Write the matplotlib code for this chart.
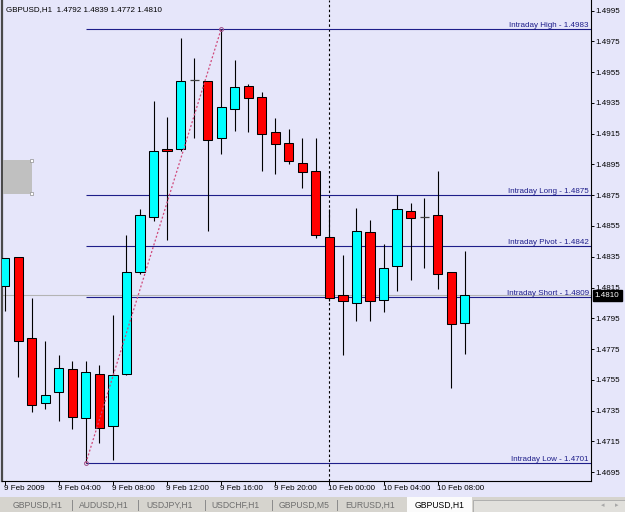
import matplotlib
matplotlib.use("Agg")
import matplotlib.pyplot as plt
from matplotlib.patches import Rectangle
from matplotlib.lines import Line2D

plt.rcParams['font.family'] = ['Liberation Sans', 'DejaVu Sans']

# ---------------- data ----------------
symbol = "GBPUSD"
timeframe = "H1"
opens = [1.4816, 1.4835, 1.4782, 1.4740, 1.4747, 1.4762, 1.4730, 1.4759, 1.4725, 1.4759,
         1.4825, 1.4861, 1.4905, 1.4905, 1.4950, 1.4949, 1.4912, 1.4931, 1.4946, 1.4939,
         1.4916, 1.4909, 1.4896, 1.4891, 1.4848, 1.4810, 1.4805, 1.4851, 1.4807, 1.4829,
         1.4865, 1.4861, 1.4862, 1.4825, 1.4792]
highs = [1.4834, 1.4835, 1.4808, 1.4780, 1.4771, 1.4767, 1.4767, 1.4765, 1.4797, 1.4849,
         1.4866, 1.4936, 1.4926, 1.4977, 1.4964, 1.4949, 1.4983, 1.4963, 1.4947, 1.4942,
         1.4925, 1.4918, 1.4912, 1.4912, 1.4866, 1.4836, 1.4867, 1.4859, 1.4843, 1.4875,
         1.4870, 1.4873, 1.4891, 1.4825, 1.4839]
lows = [1.4800, 1.4757, 1.4734, 1.4736, 1.4728, 1.4723, 1.4701, 1.4714, 1.4703, 1.4758,
        1.4824, 1.4858, 1.4846, 1.4904, 1.4912, 1.4852, 1.4902, 1.4917, 1.4916, 1.4891,
        1.4889, 1.4895, 1.4880, 1.4847, 1.4806, 1.4771, 1.4793, 1.4793, 1.4799, 1.4813,
        1.4820, 1.4828, 1.4814, 1.4750, 1.4772]
closes = [1.4834, 1.4780, 1.4739, 1.4745, 1.4763, 1.4731, 1.4760, 1.4724, 1.4758, 1.4825,
          1.4862, 1.4904, 1.4904, 1.4949, 1.4950, 1.4911, 1.4932, 1.4945, 1.4938, 1.4915,
          1.4908, 1.4897, 1.4890, 1.4849, 1.4808, 1.4806, 1.4852, 1.4806, 1.4828, 1.4866,
          1.4860, 1.4861, 1.4824, 1.4791, 1.4810]

level_names = ["Intraday High", "Intraday Long", "Intraday Pivot", "Intraday Short", "Intraday Low"]
level_values = [1.4983, 1.4875, 1.4842, 1.4809, 1.4701]

xtick_bars = [0, 4, 8, 12, 16, 20, 24, 28, 32]
xtick_labels = ["9 Feb 2009", "9 Feb 04:00", "9 Feb 08:00", "9 Feb 12:00", "9 Feb 16:00",
                "9 Feb 20:00", "10 Feb 00:00", "10 Feb 04:00", "10 Feb 08:00"]
ytick_values = [1.4695, 1.4715, 1.4735, 1.4755, 1.4775, 1.4795, 1.4815, 1.4835,
                1.4855, 1.4875, 1.4895, 1.4915, 1.4935, 1.4955, 1.4975, 1.4995]

day_separator_bar = 24
trend_start_bar = 6
trend_end_bar = 16

tabs = ["GBPUSD,H1", "AUDUSD,H1", "USDJPY,H1", "USDCHF,H1", "GBPUSD,M5", "EURUSD,H1", "GBPUSD,H1"]

# ---------------- layout ----------------
W, H = 625, 512
BG = '#e6e6fa'
FS = 5.8

fig = plt.figure(figsize=(W / 100, H / 100), dpi=100, facecolor=BG)
ax_left, ax_right, ax_bottom_px = 2.0, 591.0, 480.5
ax = fig.add_axes([ax_left / W, (H - ax_bottom_px) / H, (ax_right - ax_left) / W, ax_bottom_px / H])
ax.set_facecolor(BG)

# mapping: bar i -> x px = 4.7 + 13.53 i ; price p -> y px = 29 + (1.4983 - p) * 15390
bar_px, bar0_px = 13.53, 4.7
ppx = 15390.0
ax.set_xlim((ax_left - bar0_px) / bar_px, (ax_right - bar0_px) / bar_px)
ax.set_ylim(1.4983 - (ax_bottom_px - 29) / ppx, 1.4983 + 29 / ppx)

n = len(opens)
xs = list(range(n))

# bid line
ax.axhline(closes[-1], color='#b4b4b4', lw=0.8, zorder=1)

# day separator
ax.axvline(day_separator_bar, color='black', lw=0.8, ls=(0, (2.2, 2.2)), zorder=1)

# levels
xr = ax.get_xlim()[1]
for name, v in zip(level_names, level_values):
    ax.hlines(v, trend_start_bar, xr, color='#1e1e8a', lw=0.8, zorder=2)
    ax.annotate(f"{name} - {v:.4f}", xy=(1, v), xycoords=('axes fraction', 'data'),
                xytext=(-1.6, 1.5), textcoords='offset points', ha='right', va='baseline',
                fontsize=FS, color='#1e1e8a', zorder=6)

# candles
bw = 0.68
for i in xs:
    o, h, l, c = opens[i], highs[i], lows[i], closes[i]
    ax.vlines(i, l, h, color='black', lw=0.8, zorder=3)
    if abs(c - o) < 1e-9:
        ax.hlines(o, i - bw / 2, i + bw / 2, color='#404040', lw=0.9, zorder=4)
    else:
        col = '#00ffff' if c > o else '#ff0000'
        ax.bar(i, c - o, bottom=o, width=bw, color=col, edgecolor='black', linewidth=0.75, zorder=4)

# trend line (dotted) between low of start bar and high of end bar
tx = [trend_start_bar, trend_end_bar]
ty = [lows[trend_start_bar], highs[trend_end_bar]]
ax.plot(tx, ty, color='#d0487a', lw=0.9, ls=(0, (1.6, 1.6)), zorder=5)
ax.plot(tx, ty, ls='none', marker='o', ms=2.8, mfc='none', mec='#a0508a', mew=0.7, zorder=5)

# spines / ticks
ax.spines['top'].set_visible(False)
ax.spines['left'].set_color('#4a4a4a')
ax.spines['left'].set_linewidth(1.6)
ax.spines['right'].set_color('black')
ax.spines['right'].set_linewidth(0.8)
ax.spines['bottom'].set_color('black')
ax.spines['bottom'].set_linewidth(0.8)

ax.yaxis.tick_right()
ax.set_yticks(ytick_values)
ax.set_yticklabels([f"{v:.4f}" for v in ytick_values])
ax.tick_params(axis='y', direction='out', length=2.2, width=0.7, pad=1.2, labelsize=FS, colors='black')
ax.set_xticks(xtick_bars)
ax.set_xticklabels(xtick_labels)
for lbl in ax.get_xticklabels():
    lbl.set_horizontalalignment('left')
ax.tick_params(axis='x', direction='out', length=2.9, width=0.7, pad=0.4, labelsize=FS, colors='black')
for lbl in ax.get_xticklabels():
    lbl.set_x(lbl.get_position()[0])
# shift x labels slightly left so text starts at tick
import matplotlib.transforms as mtrans
offset = mtrans.ScaledTranslation(-1.0 / 100, 0, fig.dpi_scale_trans)
for lbl in ax.get_xticklabels():
    lbl.set_transform(lbl.get_transform() + offset)

# current price box on the price axis
ax.annotate(f"{closes[-1]:.4f}", xy=(1, closes[-1]), xycoords=('axes fraction', 'data'),
            xytext=(2.8, 0), textcoords='offset points', ha='left', va='center',
            fontsize=FS, color='white', zorder=10, annotation_clip=False,
            bbox=dict(boxstyle='square,pad=0.25', fc='black', ec='black'))

# title
fig.text(6 / W, 1 - 9.5 / H,
         f"{symbol},{timeframe}  {opens[-1]:.4f} {highs[-1]:.4f} {lows[-1]:.4f} {closes[-1]:.4f}",
         fontsize=FS, color='black', va='center', ha='left')

# gray object box at left with handles
def fr(x0, y0, w, h, **kw):
    return Rectangle((x0 / W, 1 - (y0 + h) / H), w / W, h / H, transform=fig.transFigure, **kw)

fig.patches.append(fr(3, 160, 28.7, 33.5, fc='#c0c0c0', ec='none', zorder=3))
for (hx, hy) in [(30.2, 158.5), (30.2, 192)]:
    fig.patches.append(fr(hx, hy, 3, 3, fc='white', ec='#909090', lw=0.5, zorder=4))

# tab bar
fig.patches.append(fr(0, 497, W, 15, fc='#d6d4ce', ec='none', zorder=1))
fig.patches.append(fr(473, 499.5, 152, 13, fc='#e1e0dc', ec='#a8a8a8', lw=0.6, zorder=2))
fig.patches.append(fr(407, 497, 65, 15, fc='#fbfbfb', ec='none', zorder=2))
tab_centers = [38, 104, 170, 235, 304, 370, 440]
sep_x = [72, 138, 205, 272, 337]
for i, (t, cx) in enumerate(zip(tabs, tab_centers)):
    active = (i == len(tabs) - 1)
    fig.text(cx / W, 1 - 505 / H, t, fontsize=6.2, ha='center', va='center',
             color='black' if active else '#6e6e6e', zorder=5)
for sx in sep_x:
    fig.lines.append(Line2D([sx / W, sx / W], [1 - 500 / H, 1 - 510 / H], transform=fig.transFigure,
                            color='#8a8a8a', lw=0.7, zorder=5))
fig.text(603 / W, 1 - 505 / H, '◂', fontsize=5, ha='center', va='center', color='#a8a8a8',
         family=['DejaVu Sans'], zorder=5)
fig.text(617 / W, 1 - 505 / H, '▸', fontsize=5, ha='center', va='center', color='#a8a8a8',
         family=['DejaVu Sans'], zorder=5)

fig.savefig("out.png", dpi=100, facecolor=BG)
